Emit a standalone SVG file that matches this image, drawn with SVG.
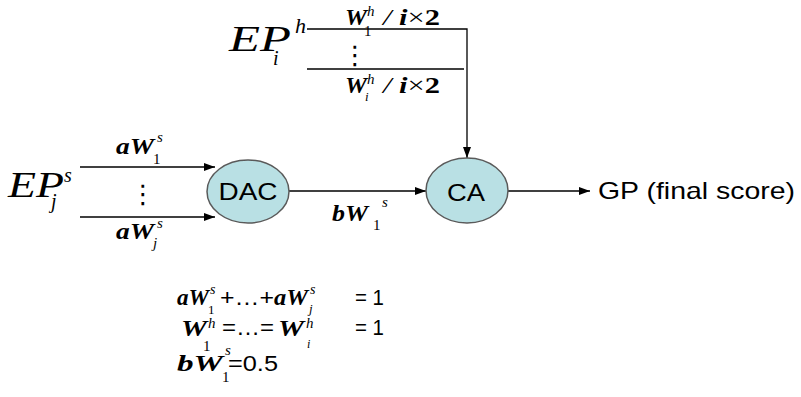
<svg xmlns="http://www.w3.org/2000/svg" width="801" height="397" viewBox="0 0 801 397">
<defs>
<marker id="ah" markerUnits="userSpaceOnUse" markerWidth="11" markerHeight="8" refX="11" refY="4" orient="auto">
<path d="M0,0 L11,4 L0,8 z" fill="#000"/>
</marker>
</defs>
<style>
.ln{stroke:#000;stroke-width:1.3;fill:none}
.ar{stroke:#000;stroke-width:1.3;fill:none;marker-end:url(#ah)}
.nd{fill:#b9e0e4;stroke:#5a5a5a;stroke-width:1.5}
.sans{font-family:"Liberation Sans",Arial,sans-serif;fill:#000}
.bi{font-family:"Liberation Serif","Times New Roman",serif;font-style:italic;font-weight:bold;font-size:23px;fill:#000}
.it{font-family:"Liberation Serif","Times New Roman",serif;font-style:italic;fill:#000}
.rm{font-family:"Liberation Serif","Times New Roman",serif;fill:#000}
.dots{font-family:"DejaVu Sans",sans-serif;font-size:26px;fill:#000;text-anchor:middle}
</style>
<rect width="801" height="397" fill="#fff"/>

<g id="connectors">
<path class="ar" d="M307,29 H467 V158"/>
<path class="ln" d="M307,69 H464"/>
<path class="ar" d="M80,167 H215"/>
<path class="ar" d="M80,217 H215"/>
<path class="ar" d="M289,191 H426"/>
<path class="ar" d="M508,191 H590"/>
</g>

<g id="DAC">
<ellipse class="nd" cx="248" cy="191.5" rx="41" ry="31.5"/>
<text class="sans" x="248" y="200" font-size="24" text-anchor="middle" textLength="59" lengthAdjust="spacingAndGlyphs">DAC</text>
</g>

<g id="CA">
<ellipse class="nd" cx="467" cy="190.5" rx="41" ry="32.5"/>
<text class="sans" x="466" y="201" font-size="24" text-anchor="middle" textLength="38" lengthAdjust="spacingAndGlyphs">CA</text>
</g>

<g id="GP">
<text class="sans" x="598" y="199" font-size="24" textLength="197" lengthAdjust="spacingAndGlyphs">GP (final score)</text>
</g>

<g id="EPh">
<text class="it" x="229" y="51" font-size="36" textLength="62" lengthAdjust="spacingAndGlyphs">EP</text>
<text class="it" x="295" y="33" font-size="22">h</text>
<text class="it" x="273" y="65" font-size="20">i</text>
</g>

<g id="EPs">
<text class="it" x="8" y="197" font-size="36" textLength="56" lengthAdjust="spacingAndGlyphs">EP</text>
<text class="it" x="64" y="182" font-size="20">s</text>
<text class="it" x="51" y="208" font-size="20">j</text>
</g>

<g id="labels-h">
<text class="bi" x="345" y="25" textLength="22" lengthAdjust="spacingAndGlyphs">W</text>
<text class="it" x="367" y="16" font-size="15">h</text>
<text class="rm" x="364" y="36" font-size="15">1</text>
<text class="bi" x="383" y="25" textLength="57" lengthAdjust="spacingAndGlyphs"><tspan font-weight="normal">/</tspan> <tspan>i</tspan><tspan font-weight="normal" font-style="normal">×</tspan><tspan font-style="normal">2</tspan></text>
<text class="dots" x="355" y="64">⋮</text>
<text class="bi" x="345" y="93" textLength="22" lengthAdjust="spacingAndGlyphs">W</text>
<text class="it" x="367" y="84" font-size="15">h</text>
<text class="it" x="365" y="101" font-size="13">i</text>
<text class="bi" x="383" y="93" textLength="57" lengthAdjust="spacingAndGlyphs"><tspan font-weight="normal">/</tspan> <tspan>i</tspan><tspan font-weight="normal" font-style="normal">×</tspan><tspan font-style="normal">2</tspan></text>
</g>

<g id="labels-s">
<text class="bi" x="116" y="154" textLength="38" lengthAdjust="spacingAndGlyphs">aW</text>
<text class="it" x="157" y="142" font-size="15">s</text>
<text class="rm" x="153" y="164" font-size="15">1</text>
<text class="dots" x="143" y="203">⋮</text>
<text class="bi" x="116" y="239" textLength="38" lengthAdjust="spacingAndGlyphs">aW</text>
<text class="it" x="157" y="228" font-size="15">s</text>
<text class="it" x="153" y="248" font-size="15">j</text>
<text class="bi" x="332" y="221" textLength="36" lengthAdjust="spacingAndGlyphs">bW</text>
<text class="it" x="382" y="207" font-size="15">s</text>
<text class="rm" x="373" y="230" font-size="15">1</text>
</g>

<g id="equations">
<text class="bi" x="177" y="305" font-size="24" textLength="32" lengthAdjust="spacingAndGlyphs">aW</text>
<text class="it" x="210" y="294" font-size="14">s</text>
<text class="rm" x="208" y="314" font-size="13">1</text>
<text class="sans" x="220" y="305" font-size="22" textLength="54" lengthAdjust="spacingAndGlyphs">+…+</text>
<text class="bi" x="274" y="305" font-size="24" textLength="34" lengthAdjust="spacingAndGlyphs">aW</text>
<text class="it" x="310" y="294" font-size="14">s</text>
<text class="it" x="309" y="313" font-size="13">j</text>
<text class="sans" x="355" y="305" font-size="22" textLength="29" lengthAdjust="spacingAndGlyphs">= 1</text>

<text class="bi" x="181" y="336" font-size="24" textLength="26" lengthAdjust="spacingAndGlyphs">W</text>
<text class="it" x="208" y="328" font-size="15">h</text>
<text class="rm" x="203" y="351" font-size="15">1</text>
<text class="sans" x="222" y="335" font-size="22" textLength="52" lengthAdjust="spacingAndGlyphs">=…=</text>
<text class="bi" x="278" y="336" font-size="24" textLength="26" lengthAdjust="spacingAndGlyphs">W</text>
<text class="it" x="306" y="328" font-size="15">h</text>
<text class="it" x="307" y="348" font-size="12">i</text>
<text class="sans" x="355" y="335" font-size="22" textLength="29" lengthAdjust="spacingAndGlyphs">= 1</text>

<text class="bi" x="177" y="371" font-size="26" textLength="46" lengthAdjust="spacingAndGlyphs">bW</text>
<text class="rm" x="222" y="382" font-size="15">1</text>
<text class="it" x="225" y="355" font-size="15">s</text>
<text class="sans" x="228" y="371" font-size="22" textLength="50" lengthAdjust="spacingAndGlyphs">=0.5</text>
</g>
</svg>
